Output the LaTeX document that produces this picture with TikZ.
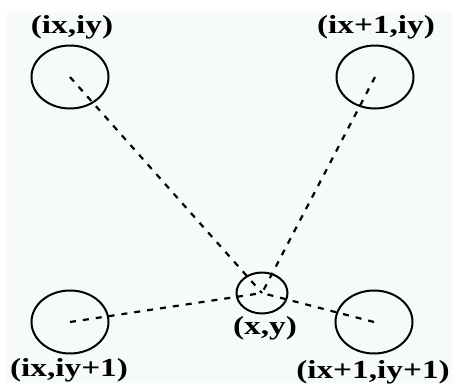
\documentclass[tikz,border=0pt]{standalone}
\usepackage{fontspec}
\usepackage{graphicx}
\setmainfont{Liberation Serif}
\usetikzlibrary{shapes.geometric}
\definecolor{paper}{HTML}{F7FBF7}
\tikzset{
  bigc/.style={ellipse, draw, line width=2pt, minimum width=77pt, minimum height=63pt, inner sep=0pt},
  smallc/.style={ellipse, draw, line width=2pt, minimum width=51pt, minimum height=41pt, inner sep=0pt},
  lab/.style={inner sep=0pt, font=\fontsize{26}{28}\selectfont\bfseries},
  dline/.style={line width=2.2pt, dash pattern=on 6pt off 7pt}
}
\newcommand{\wide}[1]{\scalebox{1.28}[1]{#1}}
\begin{document}
\begin{tikzpicture}[x=1pt,y=-1pt]
\useasboundingbox (0,0) rectangle (452,383);
\fill[white] (0,0) rectangle (452,383);
\fill[paper] (7,12) rectangle (452,383);
\node[bigc] (A) at (70,77) {};
\node[bigc] (B) at (375,77) {};
\node[bigc] (C) at (70,322) {};
\node[bigc] (D) at (374,322) {};
\node[smallc] (P) at (262,293) {};
\node[lab] (la) at (72,27) {\wide{(ix,iy)}};
\node[lab] (lb) at (376,27) {\wide{(ix+1,iy)}};
\node[lab] (lc) at (69,370) {\wide{(ix,iy+1)}};
\node[lab] (ld) at (373,372) {\wide{(ix+1,iy+1)}};
\node[lab] (lp) at (265,328) {\wide{(x,y)}};
\draw[dline] (A.center) -- (P.center);
\draw[dline] (B.center) -- (P.center);
\draw[dline] (C.center) -- (P.center);
\draw[dline] (D.center) -- (P.center);
\end{tikzpicture}
\end{document}
